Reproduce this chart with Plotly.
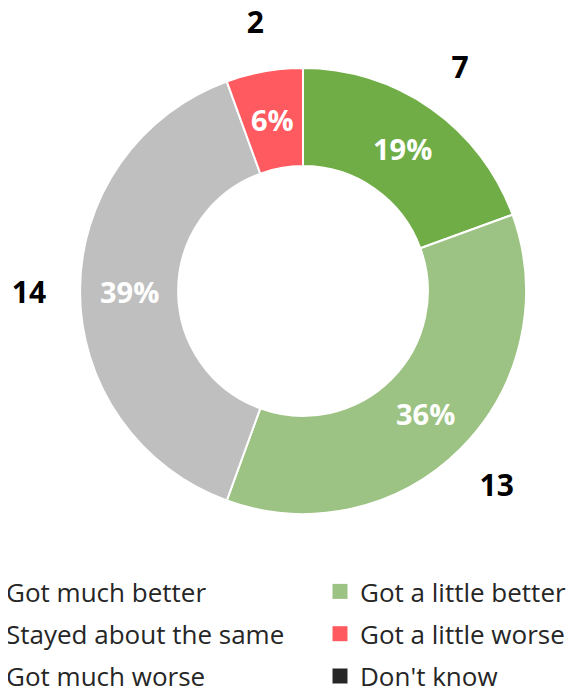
import numpy as np
import plotly.graph_objects as go

# data
categories = ["Got much better", "Got a little better", "Stayed about the same",
              "Got a little worse", "Got much worse", "Don't know"]
counts = [7, 13, 14, 2, 0, 0]
colors = ["#70AD47", "#9DC384", "#BFBFBF", "#FF5A5F", "#C00000", "#262626"]

W, H = 574, 686
OFF = 8  # the page body margin shifts the figure by 8px

def px_x(x):
    return (x - OFF) / W

def px_y(y):
    return 1 - (y - OFF) / H

# donut box (centre ~303,291 on the page, radius ~223)
cx, cy, R = 303, 291, 223
HOLE = 0.56
dom_x = [px_x(cx - R), px_x(cx + R)]
dom_y = [px_y(cy + R), px_y(cy - R)]
# bigger box for the count labels (text sits a little high, so nudge down)
RL = 274
ly = cy + 4
lab_x = [px_x(cx - RL), px_x(cx + RL)]
lab_y = [px_y(ly + RL), px_y(ly - RL)]

vals = np.array(counts, dtype=float)
keep = vals > 0
pct = [f"{round(v / vals.sum() * 100)}%" for v in vals[keep]]
ends = np.cumsum(vals)
mids = (ends - vals / 2) / vals.sum() * 360

fig = go.Figure()

fig.add_trace(go.Pie(
    labels=categories, values=counts, sort=False, direction="clockwise",
    hole=HOLE, domain=dict(x=dom_x, y=dom_y),
    marker=dict(colors=colors, line=dict(color="white", width=2)),
    textinfo="none",
    hoverinfo="label+value+percent", showlegend=False,
))

# percentages in the middle of the ring (annotations sit above the pie layer)
r_mid = R * (1 + HOLE) / 2
for t, a in zip(pct, np.radians(mids[keep])):
    fig.add_annotation(
        x=px_x(cx + r_mid * np.sin(a)), y=px_y(cy - r_mid * np.cos(a)),
        xref="paper", yref="paper", text=t, showarrow=False,
        xanchor="center", yanchor="middle",
        font=dict(family="Open Sans", size=29, color="white", weight="bold"),
    )

# counts outside the ring
fig.add_trace(go.Scatterpolar(
    r=[1.0] * int(keep.sum()), theta=mids[keep],
    text=[str(int(v)) for v in vals[keep]], mode="text",
    textfont=dict(family="Open Sans", size=30, color="black", weight="bold"),
    showlegend=False, hoverinfo="skip", cliponaxis=False,
))

# legend entries: left column / right column
for i, (name, col) in enumerate(zip(categories, colors)):
    fig.add_trace(go.Scatter(
        x=[None], y=[None], mode="markers", name=name,
        marker=dict(symbol="square", size=15, color=col),
        legend="legend" if i % 2 == 0 else "legend2",
        legendgroup=name, showlegend=True,
    ))

leg_font = dict(family="Open Sans", size=26, color="#262626")
leg_y = px_y(568)
fig.update_layout(
    width=W, height=H,
    margin=dict(l=0, r=0, t=0, b=0, autoexpand=False),
    paper_bgcolor="white", plot_bgcolor="white",
    xaxis=dict(visible=False), yaxis=dict(visible=False),
    polar=dict(
        domain=dict(x=lab_x, y=lab_y),
        bgcolor="rgba(0,0,0,0)",
        radialaxis=dict(visible=False, range=[0, 1]),
        angularaxis=dict(visible=False, rotation=90, direction="clockwise"),
    ),
    legend=dict(x=px_x(-34), xanchor="left", y=leg_y, yanchor="top",
                font=leg_font, bgcolor="rgba(0,0,0,0)",
                traceorder="grouped", tracegroupgap=5.5),
    legend2=dict(x=px_x(320), xanchor="left", y=leg_y, yanchor="top",
                 font=leg_font, bgcolor="rgba(0,0,0,0)",
                 traceorder="grouped", tracegroupgap=5.5),
)

fig.write_html("out.html")
